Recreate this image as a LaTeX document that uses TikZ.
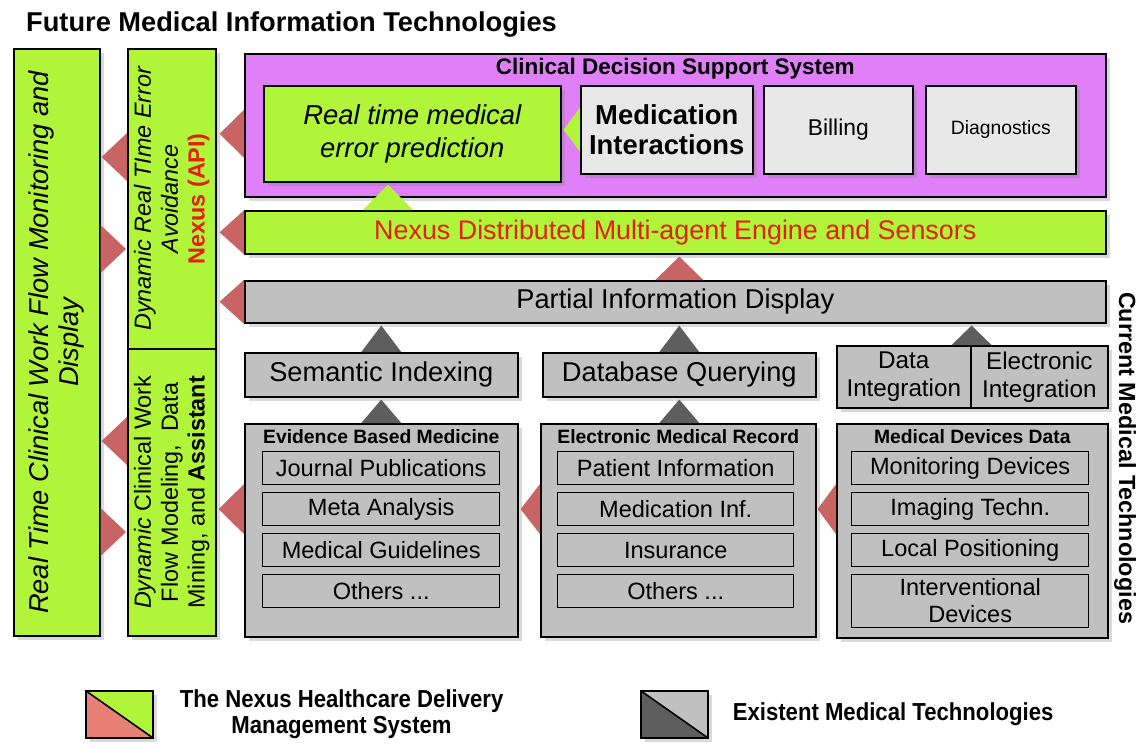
\documentclass[tikz,border=0pt]{standalone}
\usepackage{fontspec}
\setmainfont{Liberation Sans}
\newfontfamily\narrowfont[FakeStretch=0.9]{Liberation Sans}
\usetikzlibrary{positioning,calc,shadows}

\definecolor{nexusgreen}{RGB}{176,245,58}
\definecolor{cdsspurple}{RGB}{224,128,248}
\definecolor{techgray}{RGB}{192,192,192}
\definecolor{palegray}{RGB}{232,232,232}
\definecolor{tridark}{RGB}{94,94,94}
\definecolor{trired}{RGB}{201,100,100}
\definecolor{legendred}{RGB}{232,128,120}
\definecolor{nexusred}{RGB}{226,32,12}

\tikzset{
  sz/.style 2 args={minimum width=#1*0.02cm, minimum height=#2*0.02cm},
  box/.style={draw, line width=0.9pt, inner sep=0pt, anchor=north west, align=center,
    drop shadow={shadow xshift=2.5pt, shadow yshift=-2.5pt, opacity=0.3}},
  item/.style={draw, line width=0.8pt, fill=techgray, inner sep=0pt, anchor=north west,
    align=center, font=\fontsize{13.4}{15.3}\selectfont},
  bigtext/.style={font=\fontsize{15.5}{18}\selectfont},
  paneltitle/.style={font=\bfseries\fontsize{11}{13}\selectfont, inner sep=1pt},
  redtri/.style={fill=trired},
  greentri/.style={fill=nexusgreen},
  darktri/.style={fill=tridark},
  legsq/.style 2 args={draw, line width=0.9pt, anchor=north west, sz={67}{47},
    drop shadow={shadow xshift=2.5pt, shadow yshift=-2.5pt, opacity=0.3},
    path picture={
      \fill[#1] (path picture bounding box.north west) -- (path picture bounding box.south east)
        -- (path picture bounding box.south west) -- cycle;
      \fill[#2] (path picture bounding box.north west) -- (path picture bounding box.north east)
        -- (path picture bounding box.south east) -- cycle;
      \draw[line width=0.9pt] (path picture bounding box.north west) -- (path picture bounding box.south east);}},
  legtext/.style={font=\narrowfont\bfseries\fontsize{14}{15}\selectfont, align=center}
}

\begin{document}
\begin{tikzpicture}[x=0.02cm, y=-0.02cm]
  \useasboundingbox (0,0) rectangle (1138,744);

  \node[anchor=west, font=\bfseries\fontsize{15.5}{18}\selectfont] (title) at (20,25) {Future Medical Information Technologies};

  % Nexus columns
  \node[box, fill=nexusgreen, sz={86}{587}] (rtwf) at (13,48) {};
  \node[rotate=90, align=center, font=\itshape\fontsize{15.5}{17}\selectfont] (rtwftext) at (rtwf.center)
    {Real Time Clinical Work Flow Monitoring and\\Display};
  \node[box, fill=nexusgreen, sz={88}{300}] (dea) at (127,48) {};
  \node[rotate=90, align=center, font=\fontsize{13.3}{15.3}\selectfont] (deatext) at (dea.center)
    {\itshape Dynamic Real TIme Error\\\itshape Avoidance\\\textcolor{nexusred}{\bfseries Nexus (API)}};
  \node[box, fill=nexusgreen, sz={88}{287}] (dcw) at (127,348) {};
  \node[rotate=90, align=center, font=\fontsize{13.3}{15.3}\selectfont] (dcwtext) at (dcw.center)
    {\textit{Dynamic} Clinical Work\\Flow Modeling,~ Data\\Mining, and \textbf{Assistant}};

  % clinical decision support
  \node[box, fill=cdsspurple, sz={861}{143}] (cdss) at (244,53) {};
  \node[below=0.06cm of cdss.north, inner sep=1pt, font=\bfseries\fontsize{12.8}{14}\selectfont] (cdsstitle) {Clinical Decision Support System};
  \node[box, fill=nexusgreen, sz={297}{96}, font=\itshape\fontsize{15.6}{18.7}\selectfont] (rtp) at (263,85) {Real time medical\\error prediction};
  \node[box, fill=palegray, sz={172}{88}, font=\bfseries\fontsize{15.6}{17}\selectfont] (medi) at (580,85) {Medication\\Interactions};
  \node[box, fill=palegray, sz={149}{88}, font=\fontsize{13}{15}\selectfont] (bill) at (763,85) {Billing};
  \node[box, fill=palegray, sz={150}{88}, font=\fontsize{11}{13}\selectfont] (diag) at (925,85) {Diagnostics};

  \node[box, fill=nexusgreen, sz={861}{43}, text=nexusred, font=\fontsize{15.3}{17}\selectfont] (nexus) at (244,210) {Nexus Distributed Multi-agent Engine and Sensors};
  \node[box, fill=techgray, sz={861}{42}, bigtext] (pid) at (244,280) {Partial Information Display};

  \node[box, fill=techgray, sz={273}{44}, bigtext] (sem) at (244,352) {Semantic Indexing};
  \node[box, fill=techgray, sz={273}{44}, bigtext] (dbq) at (542,352) {Database Querying};
  \node[box, fill=techgray, sz={134}{62}, font=\fontsize{13.8}{16}\selectfont] (dint) at (836,345) {Data\\Integration};
  \node[box, fill=techgray, sz={137}{62}, font=\fontsize{13.8}{16}\selectfont] (eint) at (970,345) {Electronic\\Integration};

  % current technologies
  \node[box, fill=techgray, sz={273}{213}] (ebm) at (244,423) {};
  \node[paneltitle, below=0.08cm of ebm.north] (ebmtitle) {Evidence Based Medicine};
  \node[item, sz={237}{33}] (ebm1) at (262,451) {Journal Publications};
  \node[item, sz={237}{33}, below=0.13cm of ebm1] (ebm2) {Meta Analysis};
  \node[item, sz={237}{33}, below=0.13cm of ebm2] (ebm3) {Medical Guidelines};
  \node[item, sz={237}{33}, below=0.13cm of ebm3] (ebm4) {Others ...};

  \node[box, fill=techgray, sz={275}{213}] (emr) at (540,423) {};
  \node[paneltitle, below=0.08cm of emr.north] (emrtitle) {Electronic Medical Record};
  \node[item, sz={236}{33}] (emr1) at (557,451) {Patient Information};
  \node[item, sz={236}{33}, below=0.13cm of emr1] (emr2) {Medication Inf.};
  \node[item, sz={236}{33}, below=0.13cm of emr2] (emr3) {Insurance};
  \node[item, sz={236}{33}, below=0.13cm of emr3] (emr4) {Others ...};

  \node[box, fill=techgray, sz={271}{214}] (mdd) at (836,423) {};
  \node[paneltitle, below=0.08cm of mdd.north] (mddtitle) {Medical Devices Data};
  \node[item, sz={237}{33}] (mdd1) at (851,451) {Monitoring Devices};
  \node[item, sz={237}{33}, below=0.13cm of mdd1] (mdd2) {Imaging Techn.};
  \node[item, sz={237}{33}, below=0.13cm of mdd2] (mdd3) {Local Positioning};
  \node[item, sz={237}{53}, below=0.13cm of mdd3] (mdd4) {Interventional\\Devices};

  \node[rotate=-90, font=\bfseries\fontsize{13.3}{15}\selectfont] (cmt) at (1125,458) {Current Medical Technologies};

  % triangles between the blocks
  \fill[redtri] (cdss.west |- rtp.center) ++(0,-24) -- ++(0,48) -- ($(dea.east |- rtp.center)+(3,0)$) -- cycle;
  \fill[redtri] (nexus.west) ++(0,-22) -- ++(0,44) -- ($(dea.east |- nexus.west)+(3,0)$) -- cycle;
  \fill[redtri] (pid.west) ++(0,-22) -- ++(0,44) -- ($(dea.east |- pid.west)+(3,0)$) -- cycle;
  \fill[redtri] (ebm.west |- ebm2.center) ++(0,-25) -- ++(0,50) -- ($(dcw.east |- ebm2.center)+(2,0)$) -- cycle;
  \fill[redtri] (emr.west |- emr2.center) ++(0,-25) -- ++(0,50) -- ($(ebm.east |- emr2.center)+(2,0)$) -- cycle;
  \fill[redtri] (mdd.west |- mdd2.center) ++(0,-25) -- ++(0,50) -- ($(emr.east |- mdd2.center)+(1,0)$) -- cycle;
  \fill[redtri] (dea.west |- 0,157) ++(0,-24) -- ++(0,48) -- ($(rtwf.east |- 0,157)+(1,0)$) -- cycle;
  \fill[redtri] (rtwf.east |- 0,249) ++(0,-24) -- ++(0,48) -- ($(dea.west |- 0,249)+(-1,0)$) -- cycle;
  \fill[redtri] (dcw.west |- 0,441) ++(0,-24) -- ++(0,48) -- ($(rtwf.east |- 0,441)+(1,0)$) -- cycle;
  \fill[redtri] (rtwf.east |- 0,532) ++(0,-24) -- ++(0,48) -- ($(dcw.west |- 0,532)+(-1,0)$) -- cycle;
  \fill[redtri] (pid.north -| dbq.north) ++(-24,0) -- ++(48,0) -- ($(nexus.south -| dbq.north)+(0,2)$) -- cycle;

  \fill[greentri] (medi.west) ++(0,-22) -- ++(0,44) -- ($(rtp.east |- medi.west)+(2,0)$) -- cycle;
  \fill[greentri] (nexus.north -| 388,0) ++(-25,0) -- ++(50,0) -- ($(rtp.south -| 388,0)+(0,2)$) -- cycle;

  \fill[darktri] (sem.north) ++(-20,0) -- ++(40,0) -- ($(pid.south -| sem.north)+(0,2)$) -- cycle;
  \fill[darktri] (dbq.north) ++(-20,0) -- ++(40,0) -- ($(pid.south -| dbq.north)+(0,2)$) -- cycle;
  \fill[darktri] (dint.north east) ++(-20,0) -- ++(40,0) -- ($(pid.south -| dint.north east)+(0,2)$) -- cycle;
  \fill[darktri] (ebm.north -| sem.south) ++(-20,0) -- ++(40,0) -- ($(sem.south)+(0,2)$) -- cycle;
  \fill[darktri] (emr.north -| dbq.south) ++(-20,0) -- ++(40,0) -- ($(dbq.south)+(0,2)$) -- cycle;

  % legend
  \node[legsq={legendred}{nexusgreen}] (legn) at (85,690) {};
  \node[legtext, right=0.4cm of legn] (legntext) {The Nexus Healthcare Delivery\\Management System};
  \node[legsq={tridark}{techgray}] (legx) at (640,690) {};
  \node[legtext, right=0.36cm of legx] (legxtext) {Existent Medical Technologies};
\end{tikzpicture}
\end{document}
